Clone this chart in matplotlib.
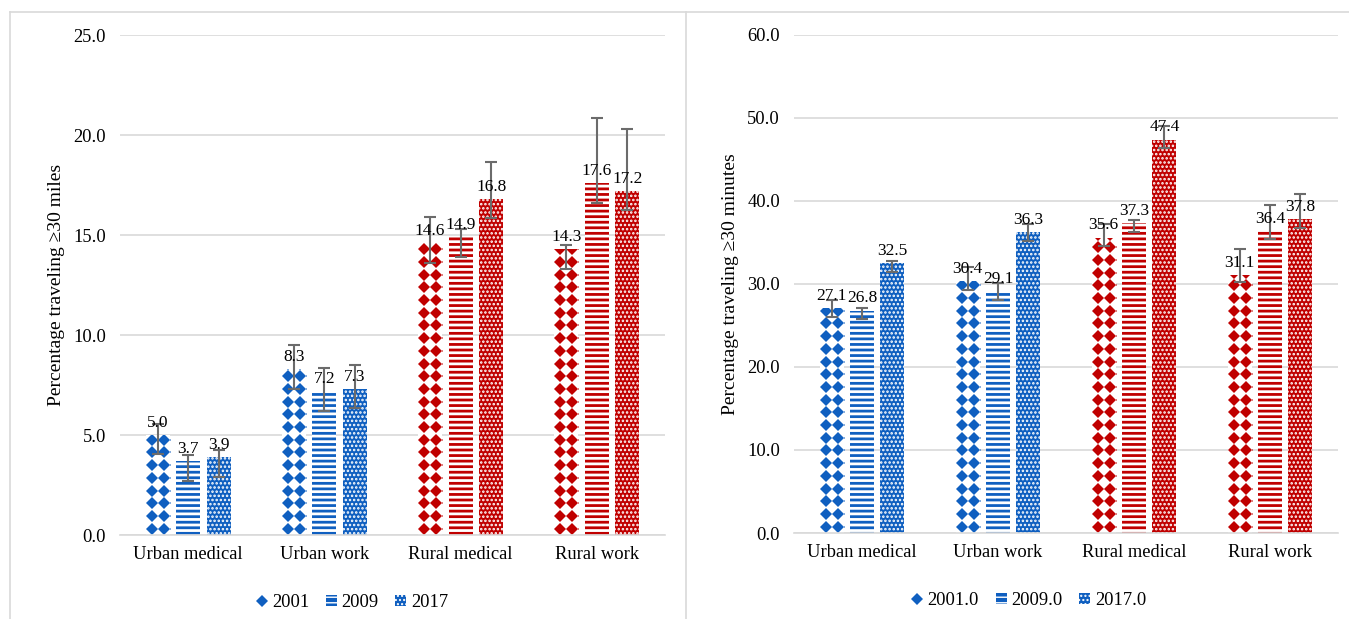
import numpy as np
import matplotlib
matplotlib.use("Agg")
import matplotlib.pyplot as plt
from matplotlib.lines import Line2D
from matplotlib.patches import Patch

plt.rcParams['font.family'] = ['Liberation Serif', 'DejaVu Serif']

# 数据
categories = ['Urban medical', 'Urban work', 'Rural medical', 'Rural work']
years_left = ['2001', '2009', '2017']
years_right = ['2001.0', '2009.0', '2017.0']

# 左图：距离 >=30 英里
miles = [[5.0, 8.3, 14.6, 14.3],
         [3.7, 7.2, 14.9, 17.6],
         [3.9, 7.3, 16.8, 17.2]]
miles_lo = [[4.05, 7.3, 13.6, 13.3],
            [2.7, 6.2, 13.9, 16.6],
            [2.9, 6.35, 15.85, 16.25]]
miles_hi = [[5.55, 9.5, 15.9, 14.5],
            [4.0, 8.35, 15.3, 20.85],
            [4.25, 8.5, 18.65, 20.3]]

# 右图：时间 >=30 分钟
minutes = [[27.1, 30.4, 35.6, 31.1],
           [26.8, 29.1, 37.3, 36.4],
           [32.5, 36.3, 47.4, 37.8]]
minutes_lo = [[26.0, 29.3, 34.6, 30.2],
              [25.8, 28.1, 36.25, 35.4],
              [31.45, 35.2, 46.4, 36.75]]
minutes_hi = [[28.07, 32.05, 37.2, 34.2],
              [27.1, 30.1, 37.7, 39.5],
              [32.8, 37.2, 49.0, 40.8]]

BLUE = '#0f5fc0'
RED = '#c00000'
GRID = '#d9d9d9'
ERR = '#6b6b6b'
PITCH_X, PITCH_Y = 12.0, 12.7   # 菱形图案间距（像素）


def diamond_fill(ax, bar, color):
    """在柱子内画菱形图案（裁剪到柱子范围）"""
    t = ax.transData
    ux = t.transform((1, 0))[0] - t.transform((0, 0))[0]
    uy = t.transform((0, 1))[1] - t.transform((0, 0))[1]
    dx, dy = PITCH_X / ux, PITCH_Y / uy
    xc = bar.get_x() + bar.get_width() / 2
    h = bar.get_height()
    cols = xc + dx * np.array([-1.5, -0.5, 0.5, 1.5])
    rows = np.arange(dy * 0.5, h + dy, dy)
    X, Y = np.meshgrid(cols, rows)
    ln, = ax.plot(X.ravel(), Y.ravel(), linestyle='none', marker='D',
                  markersize=6.6, color=color, markeredgewidth=0, zorder=2.5)
    ln.set_clip_path(bar)


def draw_panel(ax, vals, lo, hi, ymax, step, ylabel, legend_labels, leg_x):
    x = np.arange(len(categories))
    offsets = [-0.224, 0, 0.224]
    width = 0.176
    colors = [BLUE, BLUE, RED, RED]
    ax.set_xlim(-0.5, len(categories) - 0.5)
    ax.set_ylim(0, ymax)
    for i in range(3):
        v = np.array(vals[i])
        err = np.array([v - np.array(lo[i]), np.array(hi[i]) - v])
        for j in range(len(categories)):
            if i == 0:
                b = ax.bar(x[j] + offsets[i], v[j], width, color='white',
                           linewidth=0, zorder=2)
                diamond_fill(ax, b[0], colors[j])
            elif i == 1:
                b = ax.bar(x[j] + offsets[i], v[j], width, color=colors[j],
                           edgecolor='white', linewidth=0, hatch='---', zorder=2)
                b[0].set_hatch_linewidth(2.0)
            else:
                b = ax.bar(x[j] + offsets[i], v[j], width, color=colors[j],
                           edgecolor='white', linewidth=0, hatch='....', zorder=2)
                b[0].set_hatch_linewidth(1.2)
        ax.errorbar(x + offsets[i], v, yerr=err, fmt='none', ecolor=ERR,
                    elinewidth=1.5, capsize=4, capthick=1.5, zorder=3)
        for j in range(len(categories)):
            ax.annotate(f'{v[j]:.1f}', (x[j] + offsets[i], v[j]), xytext=(0, 3),
                        textcoords='offset points', ha='center', va='bottom',
                        fontsize=12.5, zorder=4)
    ticks = np.arange(0, ymax + 0.01, step)
    ax.set_yticks(ticks)
    ax.set_yticklabels([f'{t:.1f}' for t in ticks])
    ax.set_xticks(x)
    ax.set_xticklabels(categories)
    ax.tick_params(axis='both', length=0, labelsize=13.3)
    ax.tick_params(axis='x', pad=8)
    ax.tick_params(axis='y', pad=10)
    ax.grid(axis='y', color=GRID, linewidth=1.2, zorder=0)
    for s in ['top', 'right', 'left']:
        ax.spines[s].set_visible(False)
    ax.spines['bottom'].set_color(GRID)
    ax.spines['bottom'].set_linewidth(1.2)
    ax.set_ylabel(ylabel, fontsize=14, labelpad=6)

    # 图例
    h1 = Line2D([], [], linestyle='none', marker='D', markersize=6,
                color=BLUE, markeredgewidth=0)
    h2 = Patch(facecolor=BLUE, edgecolor='white', linewidth=0, hatch='---')
    h2.set_hatch_linewidth(2.0)
    h3 = Patch(facecolor=BLUE, edgecolor='white', linewidth=0, hatch='....')
    h3.set_hatch_linewidth(1.2)
    ax.legend([h1, h2, h3], legend_labels, loc='upper center',
              bbox_to_anchor=(leg_x, -0.085), ncol=3, frameon=False,
              fontsize=13.3, handlelength=0.6, handleheight=0.6,
              handletextpad=0.25, columnspacing=0.9)


fig = plt.figure(figsize=(13.49, 6.19), dpi=100)
ax1 = fig.add_axes([120 / 1349, 1 - 535 / 619, 545 / 1349, 500 / 619])
ax2 = fig.add_axes([794 / 1349, 1 - 533 / 619, 544 / 1349, 498 / 619])

draw_panel(ax1, miles, miles_lo, miles_hi, 25.0, 5.0,
           'Percentage traveling \u226530 miles', years_left, 0.426)
draw_panel(ax2, minutes, minutes_lo, minutes_hi, 60.0, 10.0,
           'Percentage traveling \u226530 minutes', years_right, 0.432)

# 外框与分隔线
fig.add_artist(Line2D([10 / 1349, 1], [1 - 12 / 619, 1 - 12 / 619], color=GRID, lw=1.2))
fig.add_artist(Line2D([10 / 1349, 10 / 1349], [0, 1 - 12 / 619], color=GRID, lw=1.2))
fig.add_artist(Line2D([686 / 1349, 686 / 1349], [0, 1 - 12 / 619], color=GRID, lw=1.2))

fig.savefig('out.png', dpi=100)
